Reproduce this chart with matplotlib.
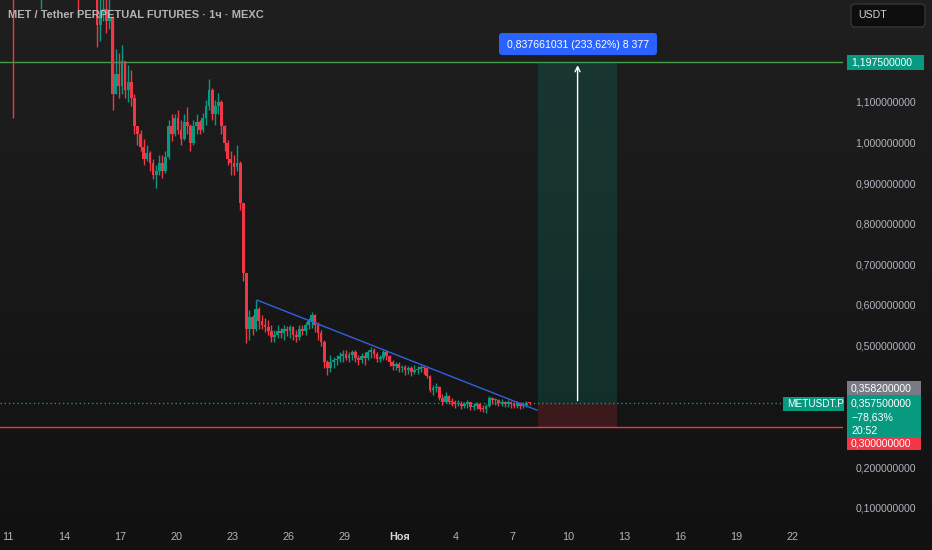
import numpy as np
import matplotlib.pyplot as plt
from matplotlib.patches import Rectangle, FancyBboxPatch
from matplotlib.colors import LinearSegmentedColormap

plt.rcParams['font.family'] = ['Liberation Sans', 'DejaVu Sans']

# 4h candles, first one at Oct 10.6 (day number, Nov 1 = 32)
start_day = 10.6
step = 1 / 6
first_open = 1.47

closes = [1.48, 1.50, 1.46, 1.44, 1.42, 1.45, 1.48, 1.52, 1.50, 1.47, 1.45, 1.43, 1.40, 1.41, 1.44, 1.47,
          1.49, 1.46, 1.44, 1.46, 1.50, 1.53, 1.49, 1.45, 1.42, 1.40, 1.43, 1.46, 1.44, 1.42, 1.40,
          1.29, 1.32, 1.33, 1.30, 1.31, 1.12, 1.17, 1.14, 1.20, 1.13, 1.15, 1.11, 1.04, 1.02, 0.99, 0.96,
          0.975, 0.95, 0.92, 0.93, 0.95, 0.93, 0.965, 1.04, 1.02, 1.06, 1.03, 1.01, 1.05, 1.04, 1.00, 1.04,
          1.05, 1.03, 1.06, 1.09, 1.13, 1.07, 1.09, 1.10, 1.04, 1.00, 0.96, 0.95, 0.94, 0.95, 0.85, 0.68,
          0.54, 0.57, 0.54, 0.59, 0.56, 0.55, 0.545, 0.535, 0.52, 0.525, 0.535, 0.53, 0.54, 0.535, 0.545,
          0.525, 0.52, 0.54, 0.535, 0.55, 0.56, 0.575, 0.55, 0.53, 0.51, 0.46, 0.445, 0.46, 0.465, 0.468,
          0.475, 0.48, 0.47, 0.478, 0.483, 0.47, 0.465, 0.475, 0.47, 0.485, 0.49, 0.48, 0.468, 0.47, 0.485,
          0.475, 0.46, 0.45, 0.455, 0.445, 0.447, 0.44, 0.445, 0.435, 0.44, 0.443, 0.447, 0.445, 0.425,
          0.39, 0.395, 0.398, 0.37, 0.36, 0.375, 0.362, 0.36, 0.355, 0.357, 0.352, 0.355, 0.36, 0.349,
          0.352, 0.355, 0.345, 0.343, 0.35, 0.37, 0.365, 0.367, 0.358, 0.362, 0.355, 0.36, 0.356, 0.352,
          0.358, 0.35, 0.354, 0.358, 0.3575]

highs = [1.50, 1.53, 1.51, 1.47, 1.46, 1.47, 1.50, 1.55, 1.54, 1.51, 1.48, 1.46, 1.44, 1.43, 1.46, 1.49,
         1.52, 1.50, 1.47, 1.48, 1.52, 1.56, 1.54, 1.50, 1.46, 1.43, 1.45, 1.48, 1.47, 1.45, 1.43,
         1.41, 1.38, 1.37, 1.36, 1.36, 1.31, 1.23, 1.22, 1.24, 1.20, 1.19, 1.18, 1.12, 1.04, 1.03, 1.01,
         0.995, 0.98, 0.96, 0.945, 0.97, 0.97, 0.98, 1.055, 1.07, 1.07, 1.08, 1.055, 1.07, 1.088, 1.045, 1.055,
         1.07, 1.055, 1.073, 1.105, 1.157, 1.135, 1.105, 1.122, 1.105, 1.044, 1.006, 0.98, 0.97, 0.994, 0.955, 0.85,
         0.68, 0.588, 0.575, 0.612, 0.595, 0.575, 0.568, 0.563, 0.55, 0.538, 0.55, 0.543, 0.55, 0.548, 0.55,
         0.548, 0.538, 0.55, 0.55, 0.558, 0.568, 0.583, 0.578, 0.558, 0.538, 0.514, 0.465, 0.477, 0.472, 0.477,
         0.484, 0.49, 0.49, 0.484, 0.49, 0.488, 0.477, 0.482, 0.484, 0.49, 0.497, 0.494, 0.484, 0.477, 0.49,
         0.49, 0.478, 0.465, 0.46, 0.46, 0.452, 0.452, 0.45, 0.45, 0.452, 0.45, 0.452, 0.45, 0.448,
         0.428, 0.403, 0.408, 0.40, 0.38, 0.385, 0.378, 0.371, 0.366, 0.366, 0.364, 0.361, 0.366, 0.362,
         0.359, 0.361, 0.358, 0.354, 0.356, 0.376, 0.374, 0.371, 0.369, 0.369, 0.364, 0.366, 0.364, 0.361,
         0.364, 0.36, 0.361, 0.364, 0.362]

lows = [1.45, 1.47, 1.44, 1.42, 1.06, 1.40, 1.44, 1.47, 1.48, 1.45, 1.43, 1.41, 1.38, 1.33, 1.40, 1.43,
        1.46, 1.44, 1.42, 1.43, 1.45, 1.49, 1.47, 1.43, 1.40, 1.32, 1.39, 1.42, 1.42, 1.40, 1.37,
        1.235, 1.25, 1.30, 1.27, 1.28, 1.08, 1.12, 1.11, 1.12, 1.11, 1.10, 1.09, 1.02, 0.995, 0.98, 0.945,
        0.955, 0.93, 0.91, 0.888, 0.92, 0.913, 0.925, 0.96, 1.005, 1.015, 1.02, 0.995, 1.006, 1.02, 0.98, 0.995,
        1.02, 1.02, 1.025, 1.044, 1.08, 1.056, 1.044, 1.07, 1.02, 0.98, 0.945, 0.92, 0.92, 0.93, 0.835, 0.66,
        0.506, 0.514, 0.526, 0.535, 0.54, 0.54, 0.534, 0.526, 0.51, 0.51, 0.518, 0.518, 0.514, 0.524, 0.518,
        0.514, 0.51, 0.515, 0.526, 0.526, 0.54, 0.544, 0.534, 0.514, 0.50, 0.445, 0.428, 0.435, 0.445, 0.452,
        0.46, 0.46, 0.465, 0.46, 0.465, 0.46, 0.452, 0.457, 0.452, 0.465, 0.47, 0.47, 0.46, 0.46, 0.465,
        0.465, 0.45, 0.44, 0.44, 0.435, 0.435, 0.428, 0.43, 0.425, 0.43, 0.43, 0.435, 0.43, 0.42,
        0.386, 0.378, 0.386, 0.366, 0.354, 0.358, 0.356, 0.351, 0.346, 0.351, 0.344, 0.346, 0.346, 0.341,
        0.341, 0.344, 0.339, 0.336, 0.334, 0.348, 0.356, 0.354, 0.351, 0.351, 0.349, 0.349, 0.346, 0.346,
        0.346, 0.344, 0.346, 0.349, 0.354]

# time axis
tick_days = [11, 14, 17, 20, 23, 26, 29, 32, 35, 38, 41, 44, 47, 50, 53]
tick_names = ['11', '14', '17', '20', '23', '26', '29', 'Ноя', '4', '7', '10', '13', '16', '19', '22']

# price axis
price_ticks = [0.1, 0.2, 0.5, 0.6, 0.7, 0.8, 0.9, 1.0, 1.1]

# drawings
take_profit = 1.1975
entry = 0.3575
stop = 0.30
tool_start, tool_end = 39.39, 43.62
trend_days = [24.34, 39.33]
trend_prices = [0.612, 0.341]

up_col = '#089981'
down_col = '#f23645'
txt_col = '#b2b5be'
fs = 7.6

fig = plt.figure(figsize=(9.32, 5.5), dpi=100)

# gradient background
bg = fig.add_axes([0, 0, 1, 1])
cmap = LinearSegmentedColormap.from_list('bg', ['#111111', '#1f1f1f'])
bg.imshow(np.linspace(0, 1, 256).reshape(-1, 1)[::-1], aspect='auto', cmap=cmap, extent=[0, 1, 0, 1])
bg.axis('off')

ax = fig.add_axes([0, 28 / 550, 843 / 932, 522 / 550])
ax.patch.set_alpha(0)
ax.set_xlim(10.571, 55.72)
ax.set_ylim(0.0655, 1.3512)

opens = [first_open] + closes[:-1]
x = start_day + np.arange(len(closes)) * step
o = np.array(opens)
c = np.array(closes)
cols = [up_col if cc >= oo else down_col for oo, cc in zip(o, c)]

# horizontal lines
ax.axhline(take_profit, color='#43a047', lw=1, zorder=1)
ax.axhline(stop, color=down_col, lw=1, zorder=1)
ax.axhline(entry, color=up_col, lw=1, ls=(0, (1, 2)), zorder=1)

# long position tool
ax.add_patch(Rectangle((tool_start, entry), tool_end - tool_start, take_profit - entry,
                       facecolor=up_col, alpha=0.2, lw=0, zorder=2))
ax.add_patch(Rectangle((tool_start, stop), tool_end - tool_start, entry - stop,
                       facecolor=down_col, alpha=0.18, lw=0, zorder=2))
mid = (tool_start + tool_end) / 2
ax.annotate('', xy=(mid, take_profit), xytext=(mid, entry),
            arrowprops=dict(arrowstyle='->', color='white', lw=1, mutation_scale=9), zorder=3)

# candles
ax.vlines(x, lows, highs, colors=cols, lw=1, zorder=4)
ax.bar(x, np.maximum(np.abs(c - o), 0.003), bottom=np.minimum(o, c), width=0.15,
       color=cols, linewidth=0, zorder=5)

# trend line
ax.plot(trend_days, trend_prices, color='#2f62e0', lw=1, zorder=6)

for s in ax.spines.values():
    s.set_visible(False)
ax.yaxis.tick_right()
ax.set_yticks(price_ticks)
ax.set_yticklabels([f'{p:.9f}'.replace('.', ',') for p in price_ticks])
ax.set_xticks(tick_days)
ax.set_xticklabels(tick_names)
ax.tick_params(axis='y', length=0, pad=9, labelsize=fs, labelcolor=txt_col)
ax.tick_params(axis='x', length=0, pad=7.5, labelsize=7.8, labelcolor=txt_col)
for lab in ax.get_xticklabels():
    if lab.get_text() == 'Ноя':
        lab.set_fontweight('bold')
        lab.set_color('#d1d4dc')

# overlay for labels, in pixel coordinates
ui = fig.add_axes([0, 0, 1, 1], zorder=10)
ui.set_xlim(0, 932)
ui.set_ylim(550, 0)
ui.axis('off')
ui.patch.set_alpha(0)


def py(p):
    return 550 - ax.transData.transform((20, p))[1]


def tag(x0, x1, yc, h, color, text, size=fs):
    ui.add_patch(Rectangle((x0, yc - h / 2), x1 - x0, h, color=color, lw=0))
    ui.text(x0 + 4, yc, text, va='center', ha='left', color='white', fontsize=size)


ui.text(8, 15, 'MET / Tether PERPETUAL FUTURES · 1ч · MEXC', color='#b4b4b4',
        fontsize=8.0, fontweight='bold', va='center')

box = FancyBboxPatch((851, 4), 74, 23, boxstyle='round,pad=0,rounding_size=4',
                     facecolor='#0e0e0e', edgecolor='#363636', lw=1)
ui.add_patch(box)
ui.text(858, 15.5, 'USDT', color='#d1d4dc', fontsize=fs, va='center')

tag(847, 924, py(take_profit), 15, up_col, '1,197500000')

ye = py(entry)
tag(847, 921, ye - 15, 14, '#787b86', '0,358200000')
ui.add_patch(Rectangle((847, ye - 8), 74, 42, color=up_col, lw=0))
ui.text(851, ye, '0,357500000', va='center', color='white', fontsize=fs)
ui.text(851, ye + 14, '−78,63%', va='center', color='white', fontsize=fs)
ui.text(851, ye + 28, '20:52', va='center', color='white', fontsize=fs)
tag(847, 921, ye + 40.5, 13, down_col, '0,300000000')
tag(783, 844, ye + 1, 14, up_col, 'METUSDT.P', size=7.2)

xm = 578
lbl = FancyBboxPatch((499, 33), 158, 22, boxstyle='round,pad=0,rounding_size=3',
                     facecolor='#2962ff', edgecolor='none')
ui.add_patch(lbl)
ui.text(xm, 44.5, '0,837661031 (233,62%) 8 377', ha='center', va='center',
        color='white', fontsize=7.6)

fig.savefig('out.png', dpi=100)
